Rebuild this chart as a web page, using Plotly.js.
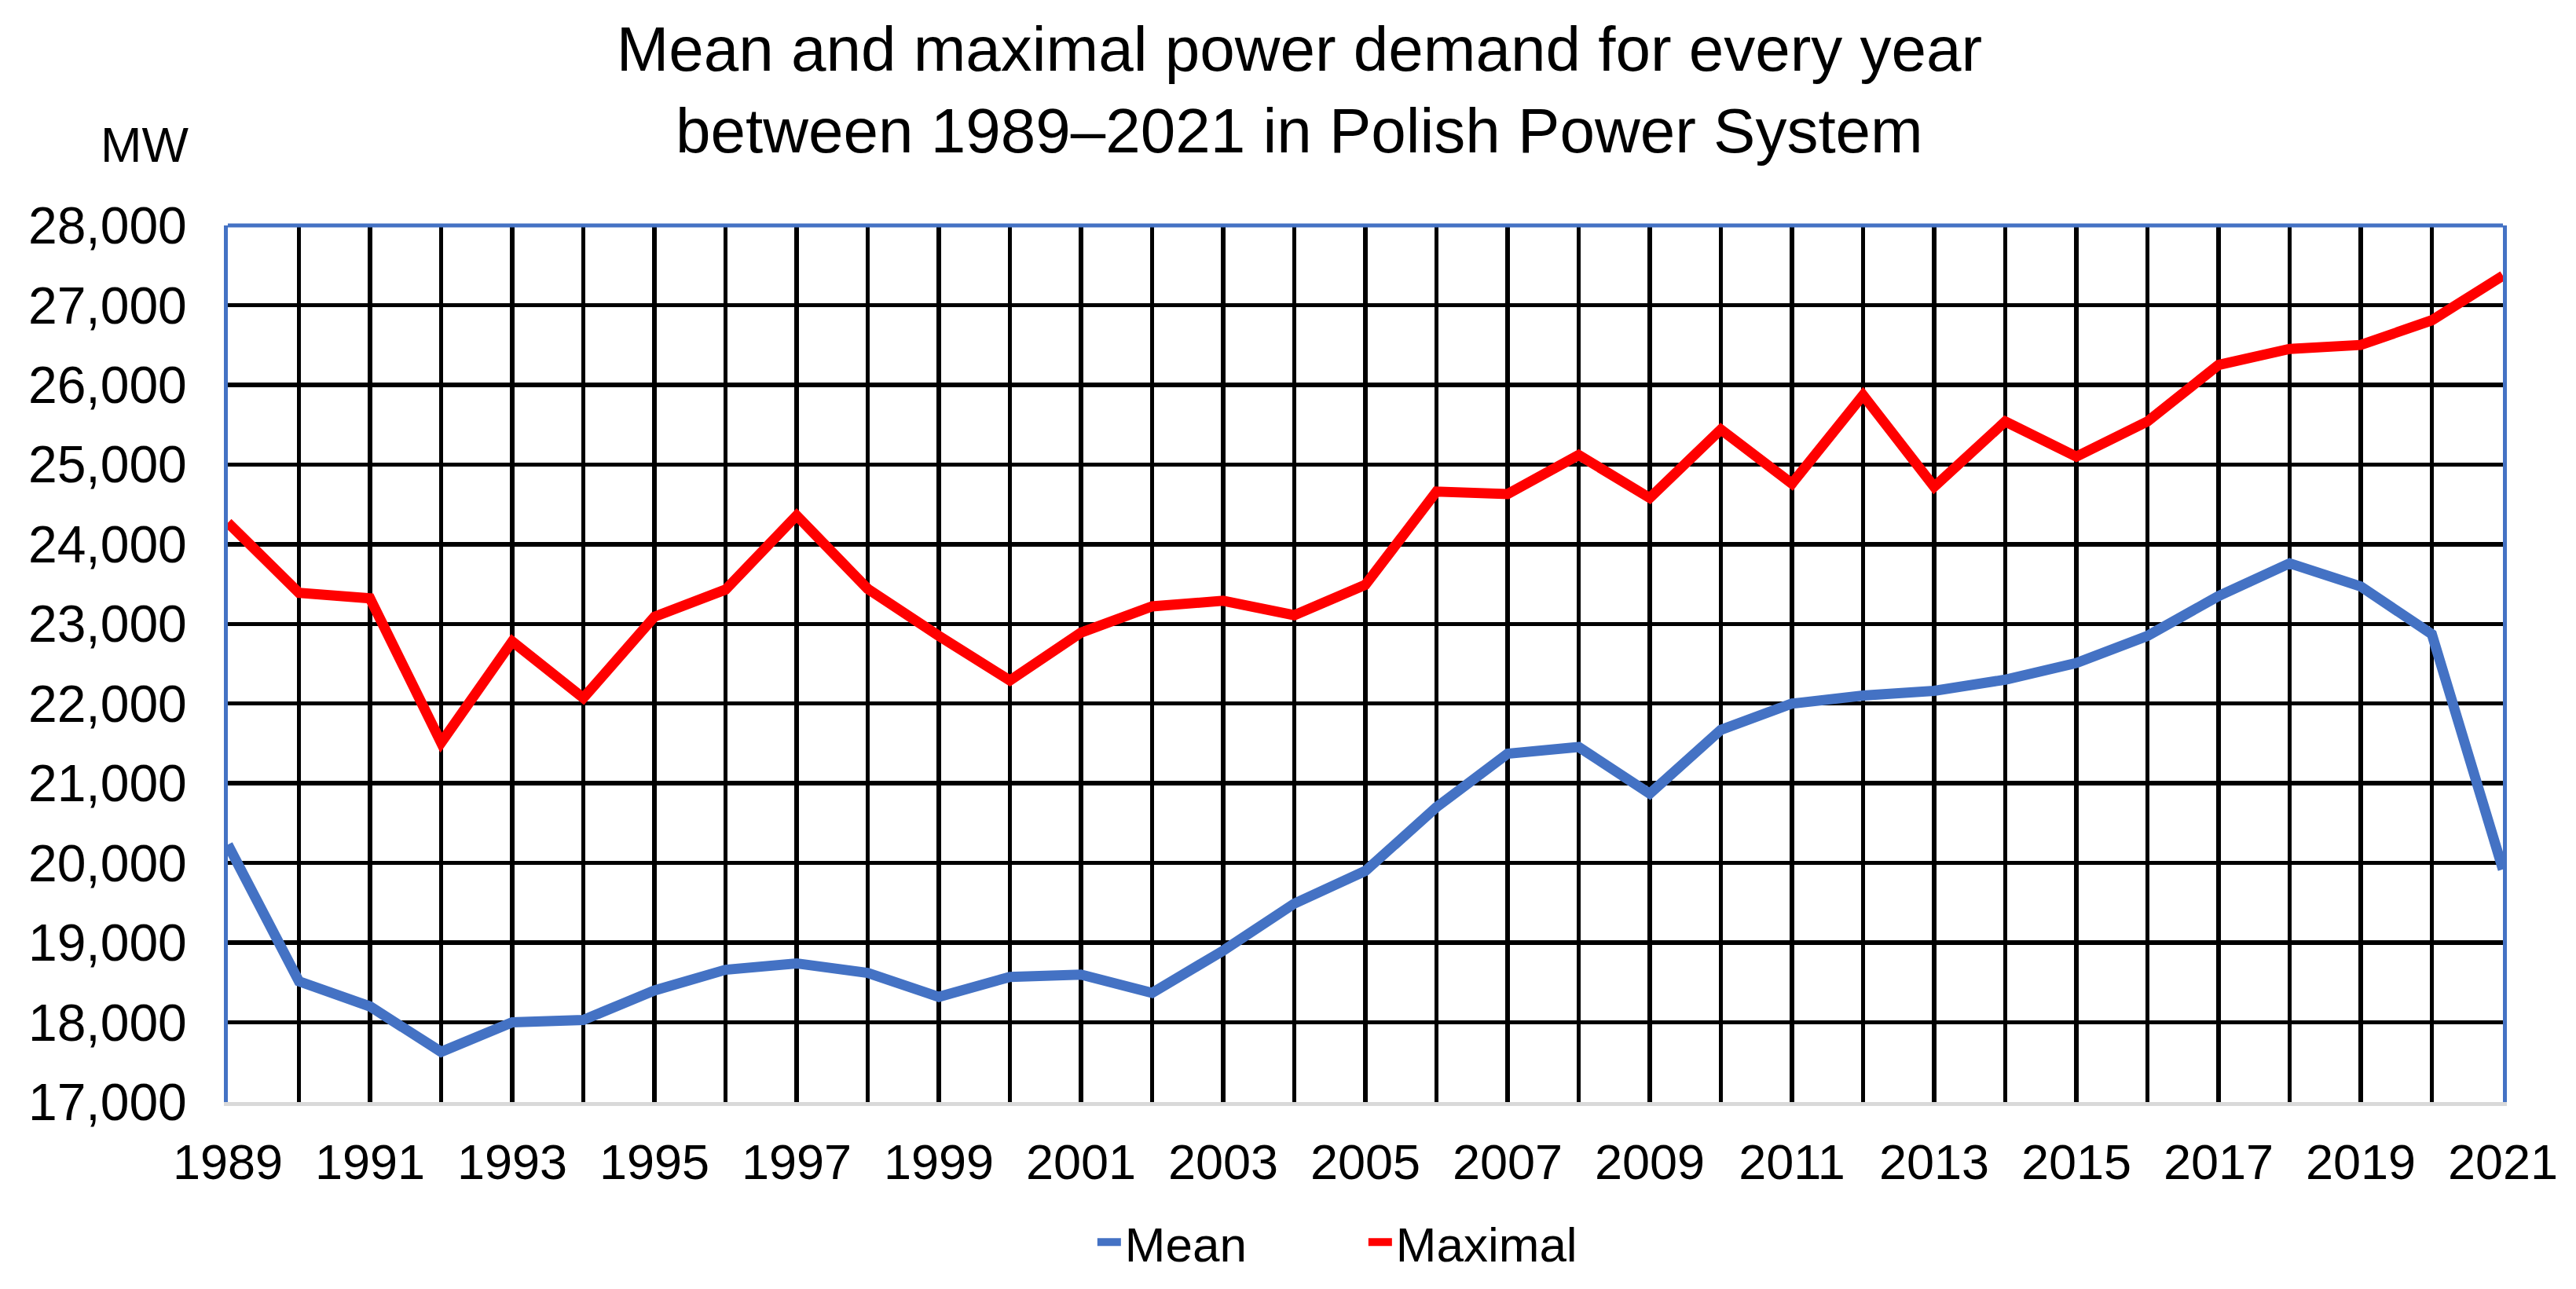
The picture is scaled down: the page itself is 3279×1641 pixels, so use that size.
<!DOCTYPE html>
<html>
<head>
<meta charset="utf-8">
<script src="https://cdn.plot.ly/plotly-3.0.1.min.js"></script>
<style>
  html, body { margin: 0; padding: 0; background: #ffffff; }
  #chart { width: 3279px; height: 1641px; }
</style>
</head>
<body>
<div id="chart"></div>
<script>
// Data
const years = [1989, 1990, 1991, 1992, 1993, 1994, 1995, 1996, 1997, 1998, 1999,
               2000, 2001, 2002, 2003, 2004, 2005, 2006, 2007, 2008, 2009, 2010,
               2011, 2012, 2013, 2014, 2015, 2016, 2017, 2018, 2019, 2020, 2021];

const meanDemand = [20230, 18515, 18200, 17630, 18000, 18030, 18400, 18660, 18740, 18620, 18320,
                    18570, 18600, 18370, 18900, 19490, 19900, 20700, 21370, 21455, 20870, 21670,
                    22000, 22100, 22160, 22300, 22510, 22850, 23350, 23760, 23470, 22870, 19920];

const maxDemand = [24270, 23390, 23320, 21510, 22780, 22070, 23090, 23430, 24360, 23440, 22850,
                   22290, 22890, 23220, 23290, 23110, 23490, 24660, 24630, 25120, 24580, 25440,
                   24760, 25870, 24720, 25540, 25100, 25540, 26250, 26450, 26500, 26810, 27370];

const seriesNames = ["Mean", "Maximal"];
const titleText = "Mean and maximal power demand for every year<br>between 1989–2021 in Polish Power System";
const unitLabel = "MW";

const FONT = "Liberation Sans, Arial, Helvetica, sans-serif";
const BLUE = "#4472C4";
const RED = "#FF0000";

const traces = [
  {
    x: years, y: meanDemand, name: seriesNames[0], type: "scatter", mode: "lines",
    line: { color: BLUE, width: 13 }
  },
  {
    x: years, y: maxDemand, name: seriesNames[1], type: "scatter", mode: "lines",
    line: { color: RED, width: 13 }
  }
];

const layout = {
  width: 3279,
  height: 1641,
  paper_bgcolor: "#ffffff",
  plot_bgcolor: "#ffffff",
  margin: { l: 290, r: 93, t: 287, b: 231 },
  font: { family: FONT, color: "#000000", size: 63 },
  title: {
    text: titleText,
    font: { family: FONT, size: 80, color: "#000000" },
    x: 0.5044, xref: "container", xanchor: "center",
    y: 0.945, yref: "container", yanchor: "top"
  },
  xaxis: {
    range: [1989, 2021],
    tick0: 1989, dtick: 2,
    showgrid: true, gridcolor: "#000000", gridwidth: 5.5,
    minor: { dtick: 1, tick0: 1989, showgrid: true, gridcolor: "#000000", gridwidth: 5.5 },
    showline: true, linecolor: "#D9D9D9", linewidth: 5,
    zeroline: false, ticks: "",
    ticklabelstandoff: 17,
    tickfont: { family: FONT, size: 63, color: "#000000" },
    fixedrange: true
  },
  yaxis: {
    range: [17000, 28000],
    tick0: 17000, dtick: 1000,
    tickformat: ",d",
    showgrid: true, gridcolor: "#000000", gridwidth: 5.5,
    showline: true, linecolor: BLUE, linewidth: 5, mirror: true,
    zeroline: false, ticks: "",
    ticklabelstandoff: 34,
    tickfont: { family: FONT, size: 66, color: "#000000" },
    fixedrange: true
  },
  shapes: [
    { type: "line", xref: "paper", yref: "paper", x0: 0, x1: 1, y0: 1, y1: 1,
      line: { color: BLUE, width: 5 } }
  ],
  annotations: [
    { text: unitLabel, xref: "paper", yref: "paper", x: -0.0165, y: 1.092,
      xanchor: "right", yanchor: "middle", showarrow: false,
      font: { family: FONT, size: 63, color: "#000000" } }
  ],
  showlegend: true,
  legend: {
    orientation: "h",
    x: 0.4996, xanchor: "center",
    y: -0.16, yanchor: "middle",
    entrywidth: 300, entrywidthmode: "pixels",
    font: { family: FONT, size: 62, color: "#000000" },
    bgcolor: "rgba(0,0,0,0)"
  }
};

Plotly.newPlot("chart", traces, layout, { displayModeBar: false, staticPlot: true });
</script>
</body>
</html>
